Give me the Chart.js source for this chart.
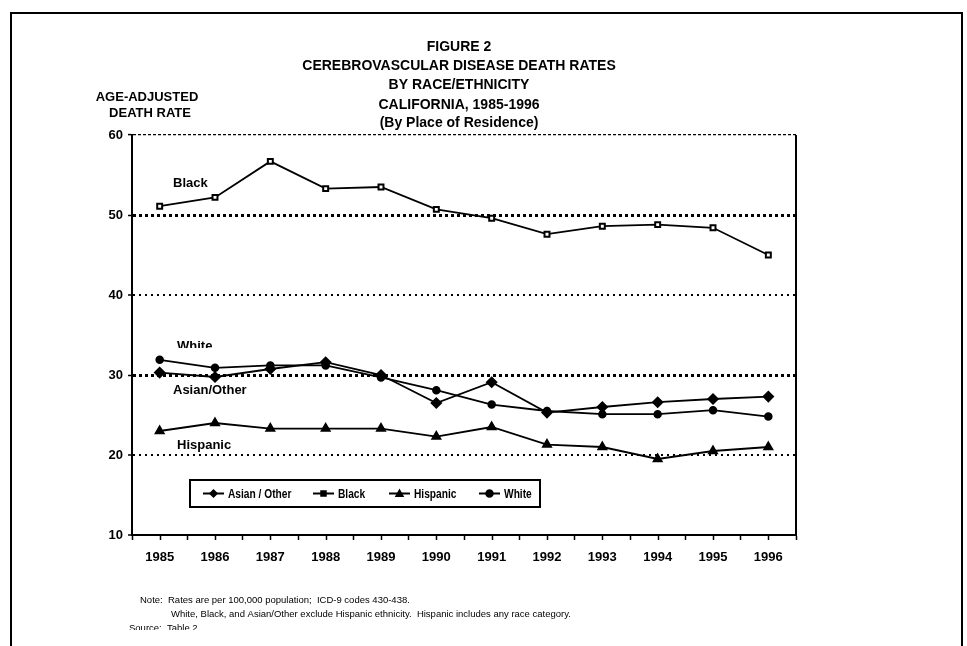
<!DOCTYPE html>
<html>
<head>
<meta charset="utf-8">
<title>Cerebrovascular Disease Death Rates</title>
<script src="https://cdn.jsdelivr.net/npm/chart.js@4.4.1/dist/chart.umd.min.js"></script>
<style>
  body { margin: 0; background: #fff; }
  canvas { display: block; }
</style>
</head>
<body>
<canvas id="myChart" width="967" height="646"></canvas>
<script>
//--- Data (age-adjusted rate per 100,000)
var years = ['1985', '1986', '1987', '1988', '1989', '1990', '1991', '1992', '1993', '1994', '1995', '1996'];
var asianOther = [30.3, 29.75, 30.75, 31.6, 30.0, 26.5, 29.1, 25.3, 26.0, 26.6, 27.0, 27.3];
var black = [51.1, 52.2, 56.7, 53.3, 53.5, 50.7, 49.6, 47.6, 48.6, 48.8, 48.4, 45.0];
var hispanic = [23.0, 24.0, 23.3, 23.3, 23.3, 22.3, 23.5, 21.3, 21.0, 19.5, 20.5, 21.0];
var white = [31.9, 30.9, 31.2, 31.2, 29.7, 28.1, 26.3, 25.5, 25.1, 25.1, 25.6, 24.8];
var yTicks = [10, 20, 30, 40, 50, 60];

var titleLines = ['FIGURE 2', 'CEREBROVASCULAR DISEASE DEATH RATES', 'BY RACE/ETHNICITY', 'CALIFORNIA, 1985-1996', '(By Place of Residence)'];
var yTitleLines = ['AGE-ADJUSTED', 'DEATH RATE'];
var noteLines = [
    'Note:  Rates are per 100,000 population;  ICD-9 codes 430-438.',
    'White, Black, and Asian/Other exclude Hispanic ethnicity.  Hispanic includes any race category.',
    'Source:  Table 2'
];

var FONT = '"Liberation Sans", Arial, sans-serif';

//--- small marker painter, shared by the legend
function drawMarker(ctx, style, x, y, r, fill) {
    ctx.save();
    ctx.fillStyle = fill;
    ctx.strokeStyle = '#000';
    ctx.lineWidth = 1.5;
    ctx.beginPath();
    if (style === 'rectRot') {
        ctx.moveTo(x, y - r); ctx.lineTo(x + r, y); ctx.lineTo(x, y + r); ctx.lineTo(x - r, y);
    } else if (style === 'triangle') {
        ctx.moveTo(x, y - r); ctx.lineTo(x + r, y + r * 0.8); ctx.lineTo(x - r, y + r * 0.8);
    } else if (style === 'rect') {
        ctx.rect(x - r, y - r, 2 * r, 2 * r);
    } else {
        ctx.arc(x, y, r, 0, Math.PI * 2);
    }
    ctx.closePath();
    ctx.fill();
    ctx.stroke();
    ctx.restore();
}

//--- frame, titles, right border, extra ticks, labels, legend, notes
var decorations = {
    id: 'decorations',
    beforeDraw: function (chart) {
        var ctx = chart.ctx;
        ctx.save();
        ctx.fillStyle = '#fff';
        ctx.fillRect(0, 0, chart.width, chart.height);
        ctx.restore();
    },
    afterDraw: function (chart) {
        var ctx = chart.ctx;
        var area = chart.chartArea;
        var xs = chart.scales.x;
        var ys = chart.scales.y;
        ctx.save();

        // outer frame (open at the bottom)
        ctx.strokeStyle = '#000';
        ctx.lineWidth = 2;
        ctx.beginPath();
        ctx.moveTo(11, 646); ctx.lineTo(11, 13); ctx.lineTo(962, 13); ctx.lineTo(962, 646);
        ctx.stroke();

        // right edge of the plot
        ctx.lineWidth = 2;
        ctx.beginPath();
        ctx.moveTo(area.right, area.top); ctx.lineTo(area.right, area.bottom + 1);
        ctx.stroke();

        // tick marks under each year as well
        ctx.lineWidth = 1.5;
        for (var i = 0; i < years.length; i++) {
            var px = Math.round(xs.getPixelForValue(i)) + 0.5;
            ctx.beginPath();
            ctx.moveTo(px, area.bottom); ctx.lineTo(px, area.bottom + 5);
            ctx.stroke();
        }

        // titles
        ctx.fillStyle = '#000';
        ctx.textAlign = 'center';
        ctx.textBaseline = 'middle';
        ctx.font = 'bold 14px ' + FONT;
        var ty = [47, 66, 85, 105, 123];
        titleLines.forEach(function (t, k) { ctx.fillText(t, 459, ty[k]); });
        ctx.font = 'bold 13px ' + FONT;
        ctx.fillText(yTitleLines[0], 147, 97);
        ctx.fillText(yTitleLines[1], 150, 113);

        // series names next to the lines
        ctx.textAlign = 'left';
        ctx.fillText('Black', area.left + 41, ys.getPixelForValue(53.9));
        ctx.fillText('Asian/Other', area.left + 41, ys.getPixelForValue(28.1));
        ctx.fillText('Hispanic', area.left + 45, ys.getPixelForValue(21.25));
        ctx.save();
        ctx.beginPath();
        ctx.rect(area.left, 300, 200, 48);
        ctx.clip();
        ctx.fillText('White', area.left + 45, ys.getPixelForValue(33.6));
        ctx.restore();

        // legend box
        var bx = 190, by = 480, bw = 350, bh = 27;
        ctx.lineWidth = 2;
        ctx.strokeRect(bx, by, bw, bh);
        var offs = [13, 123, 199, 289];
        var cy = by + bh / 2;
        chart.data.datasets.forEach(function (ds, k) {
            var x0 = bx + offs[k];
            ctx.lineWidth = 2;
            ctx.beginPath();
            ctx.moveTo(x0, cy); ctx.lineTo(x0 + 21, cy);
            ctx.stroke();
            drawMarker(ctx, ds.pointStyle, x0 + 10.5, cy, ds.pointStyle === 'rect' ? 2.5 : 3.5, '#000');
            ctx.save();
            ctx.translate(x0 + 25, cy + 1);
            ctx.scale(0.85, 1);
            ctx.font = 'bold 12px ' + FONT;
            ctx.fillStyle = '#000';
            ctx.textAlign = 'left';
            ctx.fillText(ds.label, 0, 0);
            ctx.restore();
        });

        // footnotes
        ctx.font = '9.5px ' + FONT;
        ctx.fillText(noteLines[0], 140, 600);
        ctx.fillText(noteLines[1], 171, 614);
        ctx.beginPath();
        ctx.rect(0, 600, 967, 30);
        ctx.clip();
        ctx.fillText(noteLines[2], 129, 628);
        ctx.restore();
    }
};

function makeSeries(label, values, style, radius, fill, bw) {
    return {
        label: label,
        data: values,
        borderColor: '#000',
        borderWidth: 1.8,
        backgroundColor: fill,
        pointStyle: style,
        pointRadius: radius,
        pointBorderColor: '#000',
        pointBackgroundColor: fill,
        pointBorderWidth: bw,
        tension: 0
    };
}

var ctx = document.getElementById('myChart');
var chart = new Chart(ctx, {
    type: 'line',
    data: {
        labels: years,
        datasets: [
            makeSeries('Asian / Other', asianOther, 'rectRot', 5, '#000', 1.5),
            makeSeries('Black', black, 'rect', 3.5, '#fff', 2),
            makeSeries('Hispanic', hispanic, 'triangle', 5, '#000', 1.5),
            makeSeries('White', white, 'circle', 3.5, '#000', 1.5)
        ]
    },
    options: {
        responsive: false,
        animation: false,
        devicePixelRatio: 1,
        layout: { padding: { left: 0, right: 171, top: 135, bottom: 0 } },
        plugins: {
            legend: { display: false },
            title: { display: false },
            tooltip: { enabled: false }
        },
        scales: {
            x: {
                offset: true,
                grid: {
                    offset: true,
                    drawOnChartArea: false,
                    drawTicks: true,
                    tickLength: 5,
                    tickWidth: 1.5,
                    tickColor: '#000'
                },
                border: { display: true, color: '#000', width: 2 },
                ticks: {
                    color: '#000',
                    padding: 10,
                    maxRotation: 0,
                    font: { family: FONT, size: 13, weight: 'bold' }
                },
                afterFit: function (scale) { scale.height = 111; }
            },
            y: {
                min: 10,
                max: 60,
                afterBuildTicks: function (scale) {
                    scale.ticks = yTicks.map(function (v) { return { value: v }; });
                },
                grid: {
                    color: '#000',
                    lineWidth: function (c) {
                        var v = c.tick ? c.tick.value : 0;
                        if (v === 50 || v === 30) return 3;
                        if (v === 40 || v === 20) return 2;
                        if (v === 60) return 1.2;
                        return 0;
                    },
                    drawTicks: true,
                    tickLength: 4,
                    tickWidth: 1.5,
                    tickColor: '#000'
                },
                border: {
                    display: true,
                    color: '#000',
                    width: 2,
                    dash: function (c) {
                        var v = c.tick ? c.tick.value : 0;
                        if (v === 60) return [3, 2];
                        if (v === 40 || v === 20) return [2, 4];
                        return [3, 3];
                    }
                },
                ticks: {
                    color: '#000',
                    padding: 5,
                    font: { family: FONT, size: 13, weight: 'bold' }
                },
                afterFit: function (scale) { scale.width = 132; }
            }
        }
    },
    plugins: [decorations]
});
console.log('chart drawn');
</script>
</body>
</html>
